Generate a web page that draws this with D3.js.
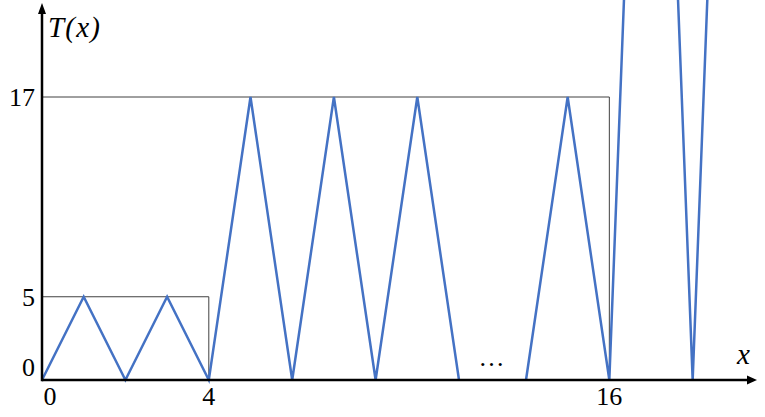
<!DOCTYPE html>
<meta charset="utf-8">

<!-- Load d3.js -->
<script src="https://d3js.org/d3.v7.min.js"></script>

<style>
  body { margin: 0; background: #fff; }
  text { font-family: "Liberation Serif", "Times New Roman", serif; fill: #000; }
</style>

<div id="my_dataviz"></div>

<script>

// zigzag pieces (x, T(x)); the gap between 10 and 14 is the "..."
var part1X = [0, 1, 2, 3, 4, 5, 6, 7, 8, 9, 10];
var part1Y = [0, 5, 0, 5, 0, 17, 0, 17, 0, 17, 0];
var part2X = [14, 15, 16, 17, 18, 19];
var part2Y = [0, 17, 0, 65, 0, 65];

// bounding boxes: height and right end
var boxLevels = [5, 17];
var boxEnds = [4, 16];

// tick labels
var xTicks = [0, 4, 16];
var yTicks = [0, 5, 17];

var width = 765, height = 417;

var svg = d3.select("#my_dataviz")
  .append("svg")
    .attr("width", width)
    .attr("height", height);

// x axis is broken between 10 and 14
var x = d3.scaleLinear()
  .domain([0, 10, 14, 20])
  .range([42, 459, 526, 776]);

var y = d3.scaleLinear()
  .domain([0, 17])
  .range([380, 97]);

// boxes
boxLevels.forEach(function(lv, i) {
  svg.append("path")
    .attr("d", d3.line()([[x(0), y(lv)], [x(boxEnds[i]), y(lv)], [x(boxEnds[i]), y(0)]]))
    .attr("fill", "none")
    .attr("stroke", "#404040")
    .attr("stroke-width", 1);
});

// zigzag
var line = d3.line()
  .x(function(d) { return x(d[0]); })
  .y(function(d) { return y(d[1]); });

[[part1X, part1Y], [part2X, part2Y]].forEach(function(p) {
  svg.append("path")
    .datum(d3.zip(p[0], p[1]))
    .attr("d", line)
    .attr("fill", "none")
    .attr("stroke", "#4472C4")
    .attr("stroke-width", 2.5)
    .attr("stroke-linejoin", "miter");
});

// axes with arrows
svg.append("line")
  .attr("x1", x(0)).attr("y1", y(0))
  .attr("x2", 748).attr("y2", y(0))
  .attr("stroke", "#000").attr("stroke-width", 2.5);
svg.append("path")
  .attr("d", "M747," + (y(0) - 4.5) + "L757," + y(0) + "L747," + (y(0) + 4.5) + "Z")
  .attr("fill", "#000");

svg.append("line")
  .attr("x1", x(0)).attr("y1", y(0) + 1.2)
  .attr("x2", x(0)).attr("y2", 12)
  .attr("stroke", "#000").attr("stroke-width", 2.5);
svg.append("path")
  .attr("d", "M" + (x(0) - 4) + ",14L" + x(0) + ",3L" + (x(0) + 4) + ",14Z")
  .attr("fill", "#000");

// tick labels
svg.selectAll(".xlab")
  .data(xTicks)
  .enter()
  .append("text")
    .attr("class", "xlab")
    .attr("x", function(d) { return Math.max(x(d), 50); })
    .attr("y", 405)
    .attr("text-anchor", "middle")
    .style("font-size", "26px")
    .text(function(d) { return d; });

svg.selectAll(".ylab")
  .data(yTicks)
  .enter()
  .append("text")
    .attr("class", "ylab")
    .attr("x", 35)
    .attr("y", function(d) { return Math.min(y(d), 367) + 9; })
    .attr("text-anchor", "end")
    .style("font-size", "26px")
    .text(function(d) { return d; });

// axis titles
svg.append("text")
  .attr("x", 48)
  .attr("y", 37)
  .style("font-size", "29px")
  .style("font-style", "italic")
  .attr("textLength", 52)
  .text("T(x)");

svg.append("text")
  .attr("x", 737)
  .attr("y", 364)
  .style("font-size", "29px")
  .style("font-style", "italic")
  .text("x");

svg.append("text")
  .attr("x", 492)
  .attr("y", 366)
  .attr("text-anchor", "middle")
  .style("font-size", "26px")
  .attr("letter-spacing", "1px")
  .text("\u2026");

</script>
